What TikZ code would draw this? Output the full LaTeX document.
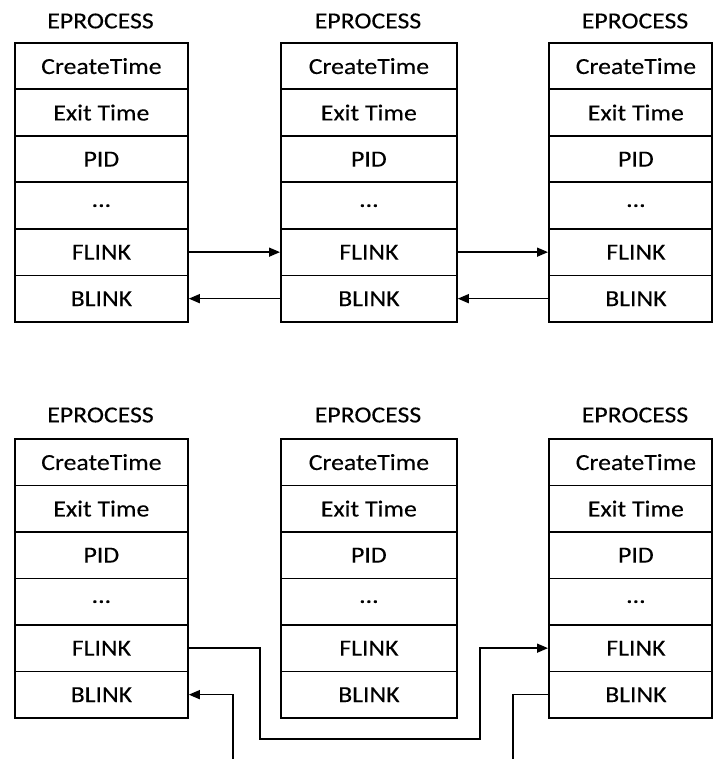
\documentclass[tikz,border=0pt]{standalone}
\usepackage{fontspec}
\setmainfont{Carlito}[FakeStretch=1.12,FakeBold=0.2]
\usetikzlibrary{arrows.meta}
\tikzset{
  cell/.style={draw, line width=1.8pt, minimum width=#1, minimum height=46.5pt, inner sep=0pt, anchor=north west, font=\fontsize{23}{25}\selectfont},
  cell/.default=173pt,
  title/.style={font=\fontsize{23}{25}\selectfont, inner sep=0pt},
  arr/.style={line width=1.5pt, -{Triangle[length=11pt,width=9pt]}},
  wire/.style={line width=1.5pt},
  shifted/.style={execute at begin node={\hspace*{11pt}}}
}
\begin{document}
\begin{tikzpicture}[x=1pt,y=-1pt]
\useasboundingbox (0,0) rectangle (712,759);
% titles
\node[title] (tA) at (100.5,21) {EPROCESS};
\node[title] (tB) at (368,21) {EPROCESS};
\node[title] (tC) at (635,21) {EPROCESS};
\node[title] (tD) at (100.5,415) {EPROCESS};
\node[title] (tE) at (368,415) {EPROCESS};
\node[title] (tF) at (635,415) {EPROCESS};
% box A
\node[cell] (A1) at (14,42) {CreateTime};
\node[cell] (A2) at (14,88.5) {Exit Time};
\node[cell] (A3) at (14,135) {PID};
\node[cell] (A4) at (14,181.5) {...};
\node[cell] (A5) at (14,228) {FLINK};
\node[cell] (A6) at (14,274.5) {BLINK};
% box B
\node[cell=176pt] (B1) at (280,42) {CreateTime};
\node[cell=176pt] (B2) at (280,88.5) {Exit Time};
\node[cell=176pt] (B3) at (280,135) {PID};
\node[cell=176pt] (B4) at (280,181.5) {...};
\node[cell=176pt] (B5) at (280,228) {FLINK};
\node[cell=176pt] (B6) at (280,274.5) {BLINK};
% box C
\node[cell=163pt,shifted] (C1) at (548,42) {CreateTime};
\node[cell=163pt,shifted] (C2) at (548,88.5) {Exit Time};
\node[cell=163pt,shifted] (C3) at (548,135) {PID};
\node[cell=163pt,shifted] (C4) at (548,181.5) {...};
\node[cell=163pt,shifted] (C5) at (548,228) {FLINK};
\node[cell=163pt,shifted] (C6) at (548,274.5) {BLINK};
% box D
\node[cell] (D1) at (14,438) {CreateTime};
\node[cell] (D2) at (14,484.5) {Exit Time};
\node[cell] (D3) at (14,531) {PID};
\node[cell] (D4) at (14,577.5) {...};
\node[cell] (D5) at (14,624) {FLINK};
\node[cell] (D6) at (14,670.5) {BLINK};
% box E
\node[cell=176pt] (E1) at (280,438) {CreateTime};
\node[cell=176pt] (E2) at (280,484.5) {Exit Time};
\node[cell=176pt] (E3) at (280,531) {PID};
\node[cell=176pt] (E4) at (280,577.5) {...};
\node[cell=176pt] (E5) at (280,624) {FLINK};
\node[cell=176pt] (E6) at (280,670.5) {BLINK};
% box F
\node[cell=163pt,shifted] (F1) at (548,438) {CreateTime};
\node[cell=163pt,shifted] (F2) at (548,484.5) {Exit Time};
\node[cell=163pt,shifted] (F3) at (548,531) {PID};
\node[cell=163pt,shifted] (F4) at (548,577.5) {...};
\node[cell=163pt,shifted] (F5) at (548,624) {FLINK};
\node[cell=163pt,shifted] (F6) at (548,670.5) {BLINK};
% top connectors
\draw[arr] (A5.east) -- (B5.west);
\draw[arr] (B6.west) -- (A6.east);
\draw[arr] (B5.east) -- (C5.west);
\draw[arr] (C6.west) -- (B6.east);
% bottom connectors
\coordinate (bl1) at (233,759);
\coordinate (bl3) at (513,759);
\draw[arr] (D5.east) -- ++(71,0) |- ++(220,91) |- (F5.west);
\draw[arr] (bl1) |- (D6.east);
\draw[wire] (F6.west) -| (bl3);
\end{tikzpicture}
\end{document}
